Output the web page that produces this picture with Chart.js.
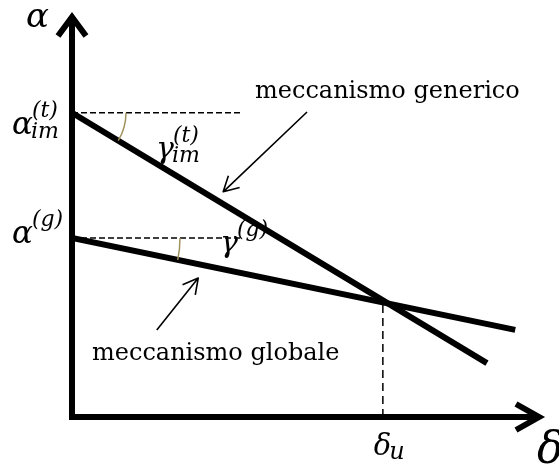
<!DOCTYPE html>
<html>
<head>
<meta charset="utf-8">
<script src="https://cdn.jsdelivr.net/npm/chart.js@4.4.1/dist/chart.umd.min.js"></script>
<style>
  html, body { margin: 0; padding: 0; background: #fff; }
  canvas { display: block; }
</style>
</head>
<body>
<canvas id="chart" width="559" height="468"></canvas>
<script>
// mechanism lines in the (delta, alpha) plane, arbitrary units
const genericDelta = [0, 8.81];
const genericAlpha = [7.51, 1.33];
const globalDelta = [0, 9.41];
const globalAlpha = [4.42, 2.15];
// length of the horizontal dashed reference lines
const refEnd = 3.57;
// ultimate displacement and the alpha where the two lines cross
const deltaU = 6.6;
const alphaU = 2.85;
// callout arrows: [tail, head]
const genericPointer = [[4.99, 7.53], [3.21, 5.56]];
const globalPointer = [[1.80, 2.15], [2.68, 3.43]];
const captions = ['meccanismo generico', 'meccanismo globale'];

const toPoints = (xs, ys) => xs.map((x, i) => ({ x, y: ys[i] }));

const SERIF = '"DejaVu Serif", "Liberation Serif", serif';
const ARC_COLOR = '#a0925c';

const solid = (data) => ({
	data,
	showLine: true,
	borderColor: '#000',
	borderWidth: 6,
	pointRadius: 0,
	borderCapStyle: 'butt',
});

const dashed = (data, dash) => ({
	data,
	showLine: true,
	borderColor: '#000',
	borderWidth: 1.5,
	borderDash: dash,
	pointRadius: 0,
});

// draws base^sup_sub in italic
const mathText = (ctx, x, y, base, size, sup, sub, scriptSize = 22) => {
	ctx.font = `italic ${size}px ${SERIF}`;
	ctx.fillText(base, x, y);
	const w = ctx.measureText(base).width;
	ctx.font = `italic ${scriptSize}px ${SERIF}`;
	if (sup) ctx.fillText(sup, x + w - 1, y - size * 0.55);
	if (sub) ctx.fillText(sub, x + w - 2, y + size * 0.14);
};

const arrow = (ctx, from, to) => {
	const [x0, y0] = from;
	const [x1, y1] = to;
	const ang = Math.atan2(y1 - y0, x1 - x0);
	const len = 17;
	const spread = 0.5;
	ctx.beginPath();
	ctx.moveTo(x0, y0);
	ctx.lineTo(x1, y1);
	ctx.moveTo(x1 - len * Math.cos(ang - spread), y1 - len * Math.sin(ang - spread));
	ctx.lineTo(x1, y1);
	ctx.lineTo(x1 - len * Math.cos(ang + spread), y1 - len * Math.sin(ang + spread));
	ctx.stroke();
};

const schematic = {
	id: 'schematic',
	afterDatasetsDraw(chart) {
		const { ctx, chartArea, scales } = chart;
		const px = (v) => scales.x.getPixelForValue(v);
		const py = (v) => scales.y.getPixelForValue(v);
		const ox = px(0);
		const oy = py(0);
		const top = chartArea.top;
		const right = chartArea.right;

		ctx.save();
		ctx.strokeStyle = '#000';
		ctx.fillStyle = '#000';

		// axes with open arrow heads
		ctx.lineWidth = 6;
		ctx.lineCap = 'butt';
		ctx.lineJoin = 'miter';
		ctx.beginPath();
		ctx.moveTo(ox, oy + 3);
		ctx.lineTo(ox, top + 4);
		ctx.moveTo(ox - 3, oy);
		ctx.lineTo(right - 4, oy);
		ctx.stroke();
		ctx.beginPath();
		ctx.moveTo(ox - 14, top + 24);
		ctx.lineTo(ox, top + 5);
		ctx.lineTo(ox + 14, top + 24);
		ctx.stroke();
		ctx.beginPath();
		ctx.moveTo(right - 27, oy - 13);
		ctx.lineTo(right - 4, oy);
		ctx.lineTo(right - 27, oy + 13);
		ctx.stroke();

		// angle marks between the dashed references and each line
		ctx.strokeStyle = ARC_COLOR;
		ctx.lineWidth = 1.5;
		[[genericDelta, genericAlpha, 54], [globalDelta, globalAlpha, 108]].forEach(([d, a, r]) => {
			const cx = px(d[0]);
			const cy = py(a[0]);
			const ang = Math.atan2(py(a[1]) - cy, px(d[1]) - cx);
			ctx.beginPath();
			ctx.arc(cx, cy, r, 0, ang);
			ctx.stroke();
		});

		// callouts
		ctx.strokeStyle = '#000';
		ctx.lineWidth = 1.6;
		ctx.lineJoin = 'round';
		[genericPointer, globalPointer].forEach(([tail, head]) => {
			arrow(ctx, [px(tail[0]), py(tail[1])], [px(head[0]), py(head[1])]);
		});

		// labels
		ctx.textBaseline = 'alphabetic';
		ctx.textAlign = 'left';
		mathText(ctx, ox - 46, top + 15, 'α', 34);
		mathText(ctx, ox - 60, py(genericAlpha[0]) + 21, 'α', 31, '(t)', 'im');
		mathText(ctx, ox - 60, py(globalAlpha[0]) + 5, 'α', 31, '(g)');
		mathText(ctx, 156, 158, 'γ', 30, '(t)', 'im');
		mathText(ctx, 220, 252, 'γ', 30, '(g)');
		mathText(ctx, px(deltaU) - 9, oy + 38, 'δ', 29, null, 'u', 24);
		mathText(ctx, right - 6, oy + 46, 'δ', 44);

		ctx.font = `24px ${SERIF}`;
		ctx.fillText(captions[0], 255, 98);
		ctx.fillText(captions[1], 92, 360);
		ctx.restore();
	},
};

new Chart(document.getElementById('chart'), {
	type: 'scatter',
	data: {
		datasets: [
			solid(toPoints(genericDelta, genericAlpha)),
			solid(toPoints(globalDelta, globalAlpha)),
			dashed(toPoints([0, refEnd], [genericAlpha[0], genericAlpha[0]]), [6, 3]),
			dashed(toPoints([0, refEnd], [globalAlpha[0], globalAlpha[0]]), [6, 3]),
			dashed(toPoints([deltaU, deltaU], [0, alphaU]), [8, 5]),
		],
	},
	options: {
		responsive: false,
		animation: false,
		layout: {
			padding: { left: 72, right: 16, top: 12, bottom: 51 },
		},
		plugins: {
			legend: { display: false },
			tooltip: { enabled: false },
		},
		scales: {
			x: { type: 'linear', min: 0, max: 10, display: false },
			y: { type: 'linear', min: 0, max: 10, display: false },
		},
	},
	plugins: [schematic],
});
</script>
</body>
</html>
